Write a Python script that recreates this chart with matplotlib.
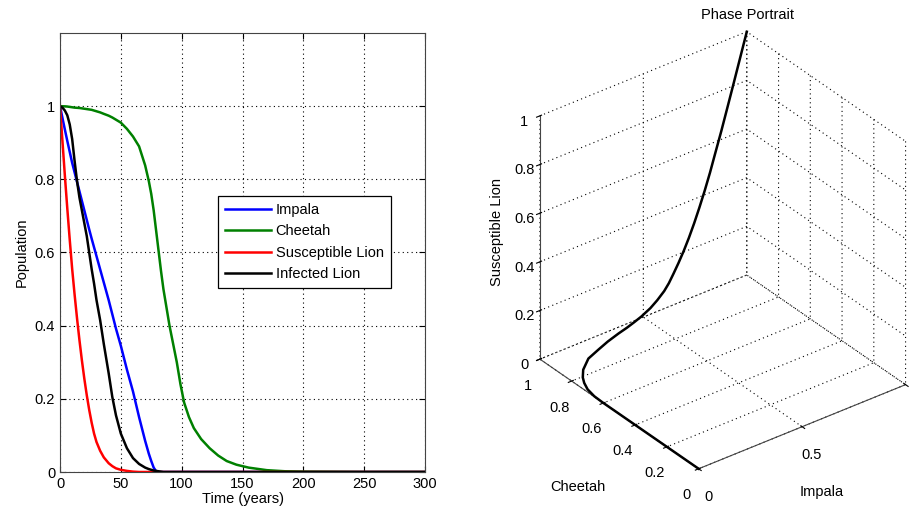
import numpy as np
import matplotlib.pyplot as plt

plt.rcParams['font.family'] = ['Liberation Sans', 'DejaVu Sans']
plt.rcParams['font.size'] = 10.5

# Time samples (years) and population fractions for each species
t = [0, 2, 4, 6, 8, 10, 12, 14, 16, 18, 20, 22, 24, 26, 28, 30, 33, 36, 40, 43,
     46, 50, 55, 60, 65, 70, 73, 75, 77, 79, 81, 83, 85, 88, 90, 93, 96, 99, 102,
     106, 110, 116, 123, 130, 137, 145, 155, 170, 185, 200, 250, 300]

impala = [1.0, 0.968, 0.936, 0.905, 0.875, 0.845, 0.819, 0.793, 0.767, 0.741,
          0.715, 0.689, 0.663, 0.638, 0.614, 0.59, 0.554, 0.518, 0.47, 0.431,
          0.392, 0.345, 0.28, 0.22, 0.15, 0.085, 0.05, 0.03, 0.012, 0.002,
          0, 0, 0, 0, 0, 0, 0, 0, 0, 0, 0, 0, 0, 0, 0, 0, 0, 0, 0, 0, 0, 0]

cheetah = [1.0, 0.9998, 0.9995, 0.999, 0.998, 0.997, 0.996, 0.9955, 0.995, 0.994,
           0.993, 0.992, 0.991, 0.99, 0.988, 0.986, 0.983, 0.979, 0.974, 0.969,
           0.963, 0.955, 0.938, 0.917, 0.89, 0.838, 0.795, 0.76, 0.715, 0.66,
           0.605, 0.55, 0.50, 0.44, 0.40, 0.35, 0.30, 0.24, 0.19, 0.15, 0.12,
           0.09, 0.065, 0.045, 0.03, 0.02, 0.012, 0.005, 0.002, 0.001, 0, 0]

sus_lion = [1.0, 0.905, 0.81, 0.72, 0.635, 0.555, 0.485, 0.42, 0.36, 0.305,
            0.255, 0.21, 0.17, 0.135, 0.105, 0.082, 0.058, 0.04, 0.024, 0.016,
            0.01, 0.006, 0.003, 0.001, 0, 0, 0, 0, 0, 0, 0, 0, 0, 0, 0, 0, 0,
            0, 0, 0, 0, 0, 0, 0, 0, 0, 0, 0, 0, 0, 0, 0]

inf_lion = [1.0, 0.996, 0.988, 0.975, 0.95, 0.91, 0.85, 0.795, 0.75, 0.715,
            0.68, 0.645, 0.60, 0.555, 0.515, 0.47, 0.415, 0.35, 0.27, 0.205,
            0.155, 0.105, 0.065, 0.038, 0.022, 0.012, 0.008, 0.006, 0.004, 0.003,
            0.002, 0.001, 0, 0, 0, 0, 0, 0, 0, 0, 0, 0, 0, 0, 0, 0, 0, 0, 0, 0, 0, 0]

series = [
    (impala, "Impala", (0, 0, 1)),
    (cheetah, "Cheetah", (0, 0.5, 0)),
    (sus_lion, "Susceptible Lion", (1, 0, 0)),
    (inf_lion, "Infected Lion", (0, 0, 0)),
]

dotted = (0, (1, 3))

fig = plt.figure(figsize=(9.13, 5.19), dpi=100)

# Time series panel
ax1 = fig.add_axes([60 / 913, 47 / 519, 365 / 913, 439 / 519])
for vals, name, col in series:
    ax1.plot(t, vals, color=col, lw=1.8, label=name)
ax1.set_xlim(0, 300)
ax1.set_ylim(0, 1.2)
ax1.set_xticks(np.arange(0, 301, 50))
ax1.set_yticks([0, 0.2, 0.4, 0.6, 0.8, 1])
ax1.set_yticklabels(['0', '0.2', '0.4', '0.6', '0.8', '1'])
ax1.grid(True, ls=dotted, color='k', lw=0.8)
ax1.tick_params(direction='in', top=True, right=True, length=4)
for sp in ax1.spines.values():
    sp.set_color('#444444')
ax1.set_xlabel("Time (years)", labelpad=1)
ax1.set_ylabel("Population", labelpad=4)
leg = ax1.legend(loc='upper left', bbox_to_anchor=(0.433, 0.629), borderaxespad=0,
                 fancybox=False, edgecolor='k', framealpha=1, handlelength=3.1,
                 handletextpad=0.35, labelspacing=0.5, borderpad=0.5)
leg.get_frame().set_linewidth(0.9)

# Phase portrait panel
ax2 = fig.add_axes([0.5093, 0.03, 0.55, 0.95], projection='3d')
ax2.set_proj_type('ortho')
ax2.view_init(elev=32, azim=-127.5)
ax2.set_box_aspect((1, 1, 1.1), zoom=0.92)
ax2.plot(impala, cheetah, sus_lion, color='k', lw=1.8)
ax2.set_xlim(0, 1)
ax2.set_ylim(0, 1)
ax2.set_zlim(0, 1)
ax2.set_xticks([0, 0.5, 1])
ax2.set_xticklabels(['0', '0.5', ''])
ax2.set_yticks([0, 0.2, 0.4, 0.6, 0.8, 1])
ax2.set_yticklabels(['0', '0.2', '0.4', '0.6', '0.8', '1'])
ax2.set_zticks([0, 0.2, 0.4, 0.6, 0.8, 1])
ax2.set_zticklabels(['0', '0.2', '0.4', '0.6', '0.8', '1'])
for axis in (ax2.xaxis, ax2.yaxis, ax2.zaxis):
    axis.set_pane_color((1, 1, 1, 0))
    axis.pane.set_edgecolor((1, 1, 1, 0))
    axis._axinfo['grid'].update(color='k', linestyle=dotted, linewidth=0.8)
    axis.line.set_color('#444444')
    axis.set_tick_params(pad=0)
ax2.xaxis.set_tick_params(pad=3)
ax2.yaxis.set_tick_params(pad=3)

fig.text(747 / 913, 1 - 15 / 519, "Phase Portrait", ha='center', va='center')
fig.text(497 / 913, 1 - 232 / 519, "Susceptible Lion", ha='center', va='center',
         rotation=90)
fig.text(578 / 913, 1 - 487 / 519, "Cheetah", ha='center', va='center')
fig.text(822 / 913, 1 - 492 / 519, "Impala", ha='center', va='center')

fig.savefig("out.png", dpi=100)
